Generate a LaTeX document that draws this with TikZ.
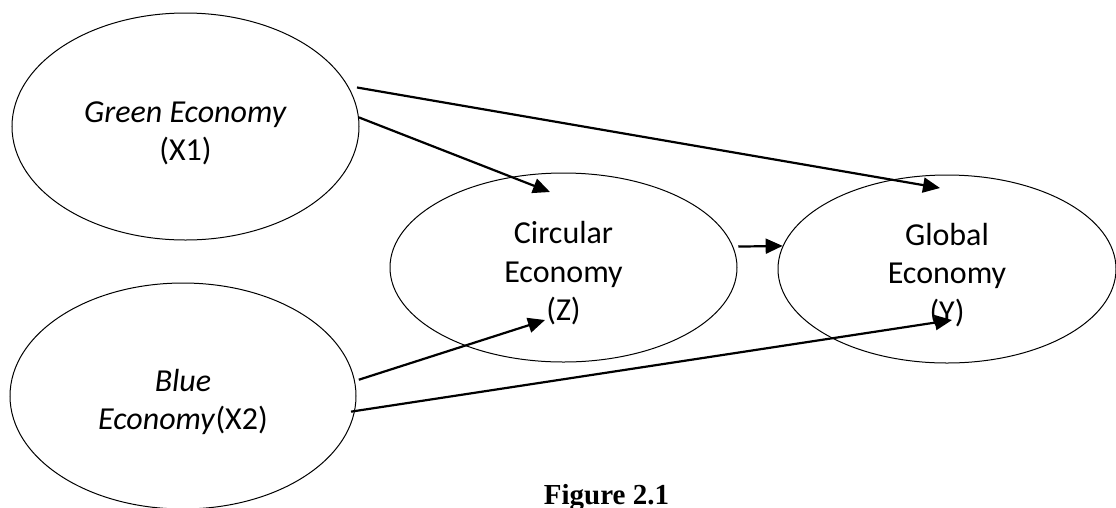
\documentclass[tikz,border=0pt]{standalone}
\usepackage{fontspec}
\setmainfont{Carlito}
\newfontfamily\captionfont{Liberation Serif}
\usetikzlibrary{arrows.meta,shapes.geometric}
\newcommand{\tallline}{\rule{0pt}{34pt}}

\begin{document}
\begin{tikzpicture}[x=1pt,y=-1pt]
  \tikzstyle{oval}=[ellipse,draw,line width=1pt,inner sep=0pt,align=center,font=\fontsize{32}{38.5}\selectfont]
  \tikzstyle{link}=[draw,line width=2.2pt,-{Triangle[length=17pt,width=15pt]}]
  \useasboundingbox (0,0) rectangle (1116,507);
  \node [oval,minimum width=347pt,minimum height=227pt] (green) at (185.5,126.5) {\tallline\textit{Green Economy}\\(X1)};
  \node [oval,minimum width=346pt,minimum height=226pt] (blue)  at (183,396)     {\tallline\textit{Blue}\\\textit{Economy}(X2)};
  \node [oval,minimum width=347pt,minimum height=189pt] (circ)  at (563.5,267.5) {\tallline Circular\\Economy\\(Z)};
  \node [oval,minimum width=338pt,minimum height=188pt] (glob)  at (947,269)     {\tallline Global\\Economy\\(Y)};
  % arrow tips that end inside the ovals
  \coordinate (circtop) at (550,192);
  \coordinate (circlow) at (545,320);
  \coordinate (globtop) at (940,188);
  \coordinate (globlow) at (952,320);
  \draw [link,shorten <=9pt]  (green.14) -- (globtop);
  \draw [link]                (green.3)  -- (circtop);
  \draw [link,shorten <=5pt]  (circ.7)   -- (glob.172);
  \draw [link,shorten <=4pt]  (blue.5)   -- (circlow);
  \draw [link,shorten <=-4pt] (blue.-5)  -- (globlow);
  \node [anchor=base,font=\captionfont\bfseries\fontsize{29}{34}\selectfont] (caption) at (606.5,504) {Figure 2.1};
\end{tikzpicture}
\end{document}
